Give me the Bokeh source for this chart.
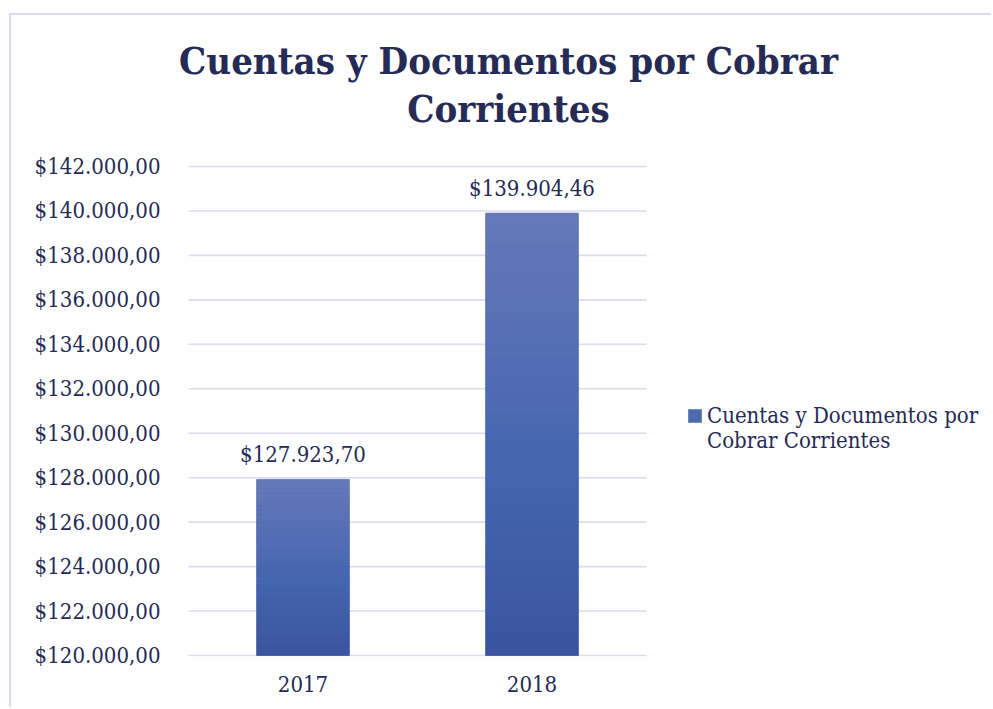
from bokeh.plotting import figure
from bokeh.models import (ColumnDataSource, Range1d, FixedTicker,
                          Label, LabelSet, Legend, LegendItem)
from bokeh.core.properties import value
from bokeh.embed import file_html
from bokeh.resources import INLINE

# ---------------- data ----------------
title_lines = ["Cuentas y Documentos por Cobrar", "Corrientes"]
series_lines = ["Cuentas y Documentos por", "Cobrar Corrientes"]
years = ["2017", "2018"]
amounts = [127923.70, 139904.46]
y_ticks = [120000, 122000, 124000, 126000, 128000, 130000,
           132000, 134000, 136000, 138000, 140000, 142000]
y_base = 120000


def fmt(v):
    s = f"{v:,.2f}"
    return "$" + s.replace(",", "X").replace(".", ",").replace("X", ".")


FONT = "DejaVu Serif Condensed"
TEXT = "#262b55"
GRID = "#d9dbee"

# ---------------- layout (picture px) ----------------
OX, OY = 11, 15                 # canvas origin inside the chart border
W, H = 993 - OX, 709 - OY
F_LEFT, F_BOTTOM = 170, 656     # plot frame left / bottom
C_LEFT = 188                    # left end of the category span
CAT_W = 229                     # px per category
PX_PER_1000 = 22.227            # vertical scale


def yval(py):  # picture y -> data value
    return y_base + (655 - py) * 1000 / PX_PER_1000


def xval(px):  # picture x -> category coordinate
    return (px - C_LEFT) / CAT_W


p = figure(width=W, height=H,
           x_range=Range1d(xval(F_LEFT), xval(OX + W)),
           y_range=Range1d(yval(F_BOTTOM), yval(OY)),
           output_backend="svg", toolbar_location=None,
           min_border=0, min_border_left=F_LEFT - OX, min_border_right=0,
           min_border_top=0, min_border_bottom=OY + H - F_BOTTOM)
p.styles = {"margin-left": "9px", "margin-top": "13px",
            "border-top": "2px solid #d9dbee", "border-left": "2px solid #d9dbee"}
p.outline_line_color = None
p.background_fill_color = "white"
p.border_fill_color = "white"

xpos = [i + 0.5 for i in range(len(years))]

# gridlines at the value ticks, across the category span
p.segment(x0=0, x1=len(years), y0=y_ticks, y1=y_ticks, line_color=GRID, line_width=1.6)

# base bars (for legend)
src = ColumnDataSource(dict(x=xpos, year=years, amount=amounts,
                            label=[fmt(a) for a in amounts]))
base = p.vbar(x="x", top="amount", bottom=y_base, width=0.405, source=src,
              fill_color="#4d69b0", line_color=None)

# gradient bands, computed from each bar's value
stops = [(0.0, (0x66, 0x79, 0xb9)), (0.55, (0x46, 0x66, 0xb0)), (1.0, (0x3a, 0x55, 0xa0))]


def grad(t):
    for (t0, c0), (t1, c1) in zip(stops[:-1], stops[1:]):
        if t <= t1:
            f = (t - t0) / (t1 - t0)
            return "#%02x%02x%02x" % tuple(int(round(a + (b - a) * f)) for a, b in zip(c0, c1))
    return "#%02x%02x%02x" % stops[-1][1]


N = 40
bx, bt, bb, bc = [], [], [], []
for xx, a in zip(xpos, amounts):
    for k in range(N):
        f0, f1 = k / N, (k + 1) / N
        bx.append(xx)
        bb.append(y_base + (a - y_base) * f0)
        bt.append(y_base + (a - y_base) * f1)
        bc.append(grad(1 - (f0 + f1) / 2))
p.vbar(x=bx, top=bt, bottom=bb, width=0.405, fill_color=bc, line_color=bc, line_width=0.6)

# data labels
p.add_layout(LabelSet(x="x", y="amount", text="label", source=src, y_offset=17,
                      text_align="center", text_baseline="alphabetic",
                      text_font=value(FONT), text_font_size="22px", text_color=TEXT))

# axes
p.xaxis.ticker = FixedTicker(ticks=xpos)
p.xaxis.major_label_overrides = {x: y for x, y in zip(xpos, years)}
p.yaxis.ticker = FixedTicker(ticks=y_ticks)
p.yaxis.major_label_overrides = {t: fmt(t) for t in y_ticks}
for ax in (p.xaxis[0], p.yaxis[0]):
    ax.axis_line_color = None
    ax.major_tick_line_color = None
    ax.major_tick_out = 0
    ax.major_tick_in = 0
    ax.minor_tick_line_color = None
    ax.major_label_text_font = FONT
    ax.major_label_text_font_size = "22px"
    ax.major_label_text_color = TEXT
p.yaxis.major_label_standoff = 160 - F_LEFT + 20
p.yaxis.major_label_standoff = F_LEFT - 160
p.xaxis.major_label_standoff = 19
p.xgrid.grid_line_color = None
p.ygrid.grid_line_color = None

# title
for txt, py in zip(title_lines, [60, 108]):
    p.add_layout(Label(x=xval(508), y=yval(py), text=txt,
                       text_align="center", text_baseline="alphabetic",
                       text_font=FONT, text_font_style="bold",
                       text_font_size="38px", text_color=TEXT))

# legend (location in px from the frame's bottom-left); leading empty line keeps
# the swatch beside the first line of the label
leg = Legend(items=[LegendItem(label="\n" + "\n".join(series_lines), renderers=[base])],
             location=(686 - F_LEFT, F_BOTTOM - 453), padding=0, margin=0, spacing=0,
             glyph_width=17, glyph_height=17, label_standoff=4,
             label_text_font=FONT, label_text_font_size="22px",
             label_text_line_height=1.23,
             label_text_color=TEXT, border_line_color=None,
             background_fill_alpha=0)
p.add_layout(leg, "center")

open("out.html", "w").write(file_html(p, INLINE))
